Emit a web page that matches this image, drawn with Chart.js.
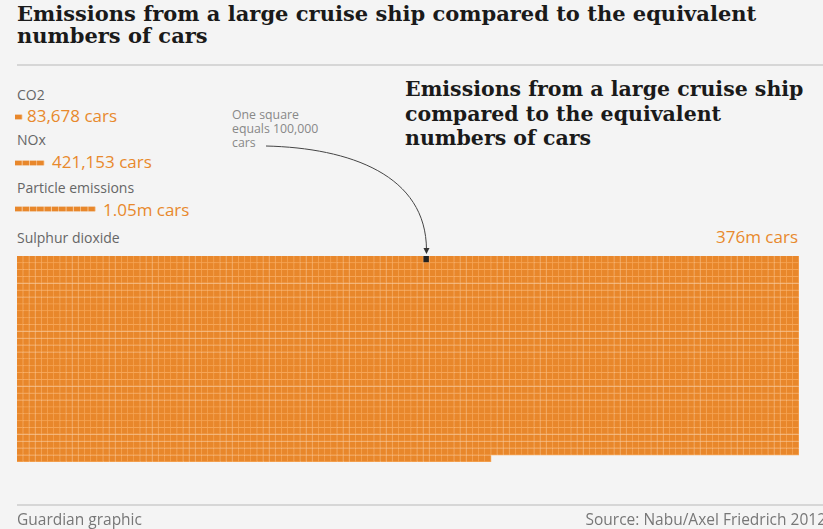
<!DOCTYPE html>
<html>
<head>
<meta charset="utf-8">
<script src="https://cdn.jsdelivr.net/npm/chart.js@4.4.1/dist/chart.umd.min.js"></script>
<style>
  html, body { margin: 0; padding: 0; background: #f4f4f4; }
  body { width: 823px; height: 529px; position: relative; overflow: hidden; font-family: "Open Sans", sans-serif; }
  .abs { position: absolute; white-space: nowrap; }
  .title { font-family: "DejaVu Serif", serif; font-weight: bold; color: #1a1a1a; }
  .grey { color: #666; font-size: 14px; line-height: 19px; }
  .orange { color: #e8892c; font-size: 17px; line-height: 23px; }
  .rule { position: absolute; left: 17px; right: 0; height: 2px; background: #d6d6d6; }
  #main { position: absolute; left: 0; top: 0; }
  #legendChart { position: absolute; left: 15px; top: 94px; }
</style>
</head>
<body>
<div class="abs title" style="left:17px; top:3px; font-size:21px; line-height:22px;">Emissions from a large cruise ship compared to the equivalent<br>numbers of cars</div>
<div class="rule" style="top:64px;"></div>

<div class="abs title" style="left:405px; top:77px; font-size:20.5px; line-height:24.5px;">Emissions from a large cruise ship<br>compared to the equivalent<br>numbers of cars</div>

<div class="abs grey" id="lab0" style="left:17px; top:85px;"></div>
<div class="abs orange" id="val0" style="left:27px; top:104px;"></div>
<div class="abs grey" id="lab1" style="left:17px; top:130px;"></div>
<div class="abs orange" id="val1" style="left:52px; top:150px;"></div>
<div class="abs grey" id="lab2" style="left:17px; top:178px;"></div>
<div class="abs orange" id="val2" style="left:103px; top:198px;"></div>
<div class="abs grey" id="lab3" style="left:17px; top:228px;"></div>
<div class="abs orange" id="val3" style="right:25px; top:225px;"></div>

<div class="abs" style="left:232px; top:108px; color:#888; font-size:12.3px; line-height:14px;">One square<br>equals 100,000<br>cars</div>

<canvas id="main" width="823" height="529"></canvas>
<canvas id="legendChart" width="90" height="138"></canvas>

<div class="rule" style="top:504px;"></div>
<div class="abs" style="left:17px; top:508px; color:#777; font-size:15.5px;">Guardian graphic</div>
<div class="abs" style="right:-3px; top:508px; color:#777; font-size:15.5px;">Source: Nabu/Axel Friedrich 2012</div>

<script>
const categories = ['CO2', 'NOx', 'Particle emissions', 'Sulphur dioxide'];
const carsEquivalent = [83678, 421153, 1050000, 376000000];
const carLabels = ['83,678 cars', '421,153 cars', '1.05m cars', '376m cars'];
const carsPerSquare = 100000;
const gridColumns = 127;
const markerColumn = 66;

const cellColor = '#e8872b';
const lineColor = '#f6a556';

categories.forEach((c, i) => {
    document.getElementById('lab' + i).textContent = c;
    document.getElementById('val' + i).textContent = carLabels[i];
});

// Sulphur dioxide waffle: one square per 100,000 cars
const squares = Math.round(carsEquivalent[3] / carsPerSquare);
const rows = Math.ceil(squares / gridColumns);
const fullRows = Math.floor(squares / gridColumns);
const lastRow = squares - fullRows * gridColumns;

const columns = [];
for (let c = 0; c < gridColumns; c++) columns.push(c);

const rowSets = [];
for (let r = 0; r < rows; r++) {
    rowSets.push({
        data: columns.map(c => (r < fullRows || c < lastRow) ? 1 : null),
        backgroundColor: cellColor,
        borderColor: lineColor,
        borderWidth: { top: 0, left: 0, right: 1, bottom: 1 },
        borderSkipped: false,
        stack: 'grid',
        order: 1,
        barPercentage: 1,
        categoryPercentage: 1
    });
}

// the single highlighted square
const markerSet = {
    data: columns.map(c => c === markerColumn ? 1 : null),
    backgroundColor: '#222',
    borderColor: lineColor,
    borderWidth: { top: 0, left: 0, right: 1, bottom: 1 },
    borderSkipped: false,
    stack: 'marker',
    grouped: false,
    order: 0,
    barPercentage: 1,
    categoryPercentage: 1
};

// curved arrow from the note to the highlighted square
const arrowPlugin = {
    id: 'arrow',
    afterDatasetsDraw(chart) {
        const el = chart.getDatasetMeta(0).data[markerColumn];
        if (!el) return;
        const ex = el.x, ey = Math.min(el.y, el.base) - 2;
        const ctx = chart.ctx;
        ctx.save();
        ctx.strokeStyle = '#444';
        ctx.lineWidth = 1;
        ctx.beginPath();
        ctx.moveTo(266, 146);
        ctx.bezierCurveTo(350, 148, ex, 175, ex, ey - 4);
        ctx.stroke();
        ctx.fillStyle = '#333';
        ctx.beginPath();
        ctx.moveTo(ex - 3, ey - 6);
        ctx.lineTo(ex + 3, ey - 6);
        ctx.lineTo(ex, ey);
        ctx.closePath();
        ctx.fill();
        ctx.restore();
    }
};

new Chart(document.getElementById('main'), {
    type: 'bar',
    data: { labels: columns, datasets: [markerSet].concat(rowSets) },
    options: {
        responsive: false,
        animation: false,
        layout: { padding: { left: 17, right: 24, top: 256, bottom: 67 } },
        plugins: { legend: { display: false }, tooltip: { enabled: false } },
        scales: {
            x: { display: false, stacked: true },
            y: { display: false, stacked: true, reverse: true, min: 0, max: rows }
        }
    },
    plugins: [arrowPlugin]
});

// small legend bars for CO2, NOx and particles
const legendSquares = carsEquivalent.slice(0, 3).map(v => Math.max(1, Math.round(v / carsPerSquare)));
const maxLegend = Math.max(...legendSquares);
const legendSets = [];
for (let k = 0; k < maxLegend; k++) {
    legendSets.push({
        data: legendSquares.map(n => k < n ? 1 : null),
        backgroundColor: cellColor,
        borderColor: '#f8c38e',
        borderWidth: { top: 0, left: 0, right: 1, bottom: 0 },
        borderSkipped: false,
        barThickness: 5
    });
}

new Chart(document.getElementById('legendChart'), {
    type: 'bar',
    data: { labels: categories.slice(0, 3), datasets: legendSets },
    options: {
        indexAxis: 'y',
        responsive: false,
        animation: false,
        layout: { padding: 0 },
        plugins: { legend: { display: false }, tooltip: { enabled: false } },
        scales: {
            x: { display: false, stacked: true, min: 0, max: 12.3 },
            y: { display: false, stacked: true }
        }
    }
});
</script>
</body>
</html>
